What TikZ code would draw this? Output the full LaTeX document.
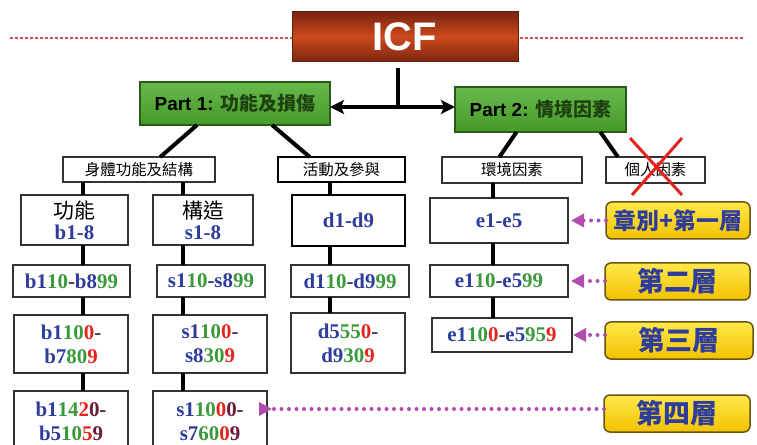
\documentclass[tikz,border=0pt]{standalone}
\usepackage{fontspec}
\setmainfont{Liberation Serif}
\newfontfamily\cjk{Noto Sans CJK TC}
\newfontfamily\arial{Liberation Sans}
\usetikzlibrary{arrows.meta,calc}
\definecolor{cblue}{HTML}{2E3C9C}
\definecolor{cgreen}{HTML}{3A9A3A}
\definecolor{cred}{HTML}{E52420}
\definecolor{cmar}{HTML}{6A1A3A}
\definecolor{cdash}{HTML}{333366}
\definecolor{icfdark}{HTML}{7A2410}
\definecolor{icfmid}{HTML}{CC4A1C}
\definecolor{gfill}{HTML}{4CAC2C}
\definecolor{gborder}{HTML}{2A5A1A}
\definecolor{gtext}{HTML}{1F4010}
\definecolor{ytop}{HTML}{FFE84A}
\definecolor{ybot}{HTML}{F2C200}
\definecolor{yborder}{HTML}{6A5410}
\definecolor{ytext}{HTML}{2E3C9C}
\definecolor{purp}{HTML}{B04CB0}
\definecolor{redline}{HTML}{D05050}
\newcommand\Cb[1]{\textcolor{cblue}{#1}}
\newcommand\Cg[1]{\textcolor{cgreen}{#1}}
\newcommand\Cr[1]{\textcolor{cred}{#1}}
\newcommand\Cm[1]{\textcolor{cmar}{#1}}
\newcommand\Cd{\textcolor{cdash}{-}}
\begin{document}
\begin{tikzpicture}[x=1bp,y=-1bp,
  every node/.style={inner sep=0pt,outer sep=0pt},
  box/.style={draw=black!80,line width=1.5bp,fill=white,rectangle},
  codebox/.style={box,font=\fontsize{21}{24}\selectfont\bfseries,align=center},
  headbox/.style={box,font=\cjk\fontsize{15.5}{17}\selectfont},
  partbox/.style={draw=gborder,line width=1.5bp,top color=gfill!85!white,bottom color=gfill!90!black,
     font=\arial\bfseries\fontsize{19}{22}\selectfont},
  ybox/.style={draw=yborder,line width=1.5bp,rounded corners=6bp,top color=ytop,bottom color=ybot,
     text=ytext,font=\cjk\bfseries\fontsize{27}{30}\selectfont},
  conn/.style={line width=4bp,black},
  dotarrow/.style={purp,line width=4bp,line cap=round,dash pattern=on 0bp off 7.5bp,
     -{Triangle[length=13bp,width=13bp]}},
]
\clip (0,0) rectangle (757,445);
\fill[white] (0,0) rectangle (757,445);
% top red dotted line
\coordinate (rl1) at (10,38);
\coordinate (rl2) at (745,38);
\draw[redline,line width=1.5bp,dash pattern=on 3bp off 2bp] (rl1) -- (rl2);
% ICF
\node[draw=icfdark!80!black,line width=1bp,minimum width=226bp,minimum height=50bp,
  shading=axis,top color=icfdark,bottom color=icfdark,middle color=icfmid,
  text=white,font=\arial\bfseries\fontsize{40}{44}\selectfont] (ICF) at (405,37) {ICF};
% parts
\node[partbox,minimum width=190bp,minimum height=43bp] (P1) at (235,103.5) {Part 1: {\cjk\color{gtext}功能及損傷}};
\node[partbox,minimum width=171bp,minimum height=45bp] (P2) at (540.5,109.5) {Part 2: {\cjk\color{gtext}情境因素}};
\coordinate (J) at (398,107);
\draw[conn,line width=3.5bp,shorten <=6bp] (ICF.south -| J) -- (J);
\draw[line width=3.5bp,{Stealth[length=14bp,width=14bp,inset=3bp]}-{Stealth[length=14bp,width=14bp,inset=3bp]}]
  (P1.east |- J) -- (P2.west |- J);
% headers
\node[headbox,minimum width=152bp,minimum height=25bp] (H1) at (139,169.5) {身體功能及結構};
\node[headbox,minimum width=127bp,minimum height=25bp,line width=2bp,draw=black] (H2) at (341.5,169.5) {活動及參與};
\node[headbox,minimum width=140bp,minimum height=26bp] (H3) at (512,170) {環境因素};
\node[headbox,minimum width=99bp,minimum height=26bp] (H4) at (655.5,170) {個人因素};
\draw[conn] ($(P1.south west)!0.3!(P1.south east)$) -- ($(H1.north west)!0.64!(H1.north east)$);
\draw[conn] ($(P1.south west)!0.695!(P1.south east)$) -- ($(H2.north west)!0.25!(H2.north east)$);
\draw[conn] ($(P2.south west)!0.36!(P2.south east)$) -- ($(H3.north west)!0.41!(H3.north east)$);
\draw[conn] ($(P2.south west)!0.85!(P2.south east)$) -- ($(H4.north west)!0.12!(H4.north east)$);
% red cross
\coordinate (x1) at (630,138);
\coordinate (x2) at (682,195);
\coordinate (x3) at (682,138);
\coordinate (x4) at (632,195);
\draw[cred,line width=3bp] (x1) -- (x2);
\draw[cred,line width=3bp] (x3) -- (x4);
% b column
\node[codebox,minimum width=107bp,minimum height=50bp] (B1) at (74.5,220) {{\cjk\mdseries\color{black}功能}\\[-3bp]\Cb{b1-8}};
\node[codebox,minimum width=117bp,minimum height=32bp] (B2) at (71.5,281) {\Cb{b1}\Cg{10}\Cd\Cb{b8}\Cg{99}};
\node[codebox,minimum width=114bp,minimum height=58bp] (B3) at (71,344) {\Cb{b1}\Cg{10}\Cr{0}\Cd\\\Cb{b7}\Cg{80}\Cr{9}};
\node[codebox,minimum width=114bp,minimum height=61bp] (B4) at (71,421.5) {\Cb{b1}\Cg{14}\Cr{2}\Cm{0-}\\\Cb{b5}\Cg{10}\Cr{5}\Cm{9}};
% s column
\node[codebox,minimum width=100bp,minimum height=50bp] (S1) at (203,220) {{\cjk\mdseries\color{black}構造}\\[-3bp]\Cb{s1-8}};
\node[codebox,minimum width=108bp,minimum height=32bp] (S2) at (211,281) {\Cb{s1}\Cg{10}\Cd\Cb{s8}\Cg{99}};
\node[codebox,minimum width=114bp,minimum height=58bp] (S3) at (210,344) {\Cb{s1}\Cg{10}\Cr{0}\Cd\\\Cb{s8}\Cg{30}\Cr{9}};
\node[codebox,minimum width=114bp,minimum height=61bp] (S4) at (210,421.5) {\Cb{s1}\Cg{10}\Cr{0}\Cm{0-}\\\Cb{s7}\Cg{60}\Cr{0}\Cm{9}};
% d column
\node[codebox,minimum width=113bp,minimum height=51bp,line width=2bp,draw=black] (D1) at (348.5,220.5) {\Cb{d1-d9}};
\node[codebox,minimum width=118bp,minimum height=32bp] (D2) at (350,281) {\Cb{d1}\Cg{10}\Cd\Cb{d9}\Cg{99}};
\node[codebox,minimum width=114bp,minimum height=60bp] (D3) at (348,343) {\Cb{d5}\Cg{55}\Cr{0}\Cd\\\Cb{d9}\Cg{30}\Cr{9}};
% e column
\node[codebox,minimum width=138bp,minimum height=45bp] (E1) at (499,220.5) {\Cb{e1-e5}};
\node[codebox,minimum width=138bp,minimum height=32bp] (E2) at (499,281) {\Cb{e1}\Cg{10}\Cd\Cb{e5}\Cg{99}};
\node[codebox,minimum width=140bp,minimum height=34bp] (E3) at (502,335) {\Cb{e1}\Cg{10}\Cr{0}\Cd\Cb{e5}\Cg{95}\Cr{9}};
% vertical connectors
\coordinate (cb) at (83,0);
\coordinate (cs) at (183,0);
\coordinate (cd) at (330,0);
\coordinate (ce) at (493,0);
\draw[conn] (H1.south -| cb) -- (B1.north -| cb);
\draw[conn] (B1.south -| cb) -- (B2.north -| cb);
\draw[conn] (B2.south -| cb) -- (B3.north -| cb);
\draw[conn] (B3.south -| cb) -- (B4.north -| cb);
\draw[conn] (H1.south -| cs) -- (S1.north -| cs);
\draw[conn] (S1.south -| cs) -- (S2.north -| cs);
\draw[conn] (S2.south -| cs) -- (S3.north -| cs);
\draw[conn] (S3.south -| cs) -- (S4.north -| cs);
\draw[conn] (H2.south -| cd) -- (D1.north -| cd);
\draw[conn] (D1.south -| cd) -- (D2.north -| cd);
\draw[conn] (D2.south -| cd) -- (D3.north -| cd);
\draw[conn] (H3.south -| ce) -- (E1.north -| ce);
\draw[conn] (E1.south -| ce) -- (E2.north -| ce);
\draw[conn] (E2.south -| ce) -- (E3.north -| ce);
% yellow level labels
\node[ybox,minimum width=144bp,minimum height=37bp,font=\cjk\bfseries\fontsize{23}{26}\selectfont] (Y1) at (678,220.5) {章別+第一層};
\node[ybox,minimum width=145bp,minimum height=37bp] (Y2) at (677.5,281.5) {第二層};
\node[ybox,minimum width=148bp,minimum height=37bp] (Y3) at (679,340.5) {第三層};
\node[ybox,minimum width=146bp,minimum height=37bp] (Y4) at (677,413.5) {第四層};
\draw[dotarrow] (Y1.west |- E1.east) -- ([xshift=3bp]E1.east);
\draw[dotarrow] (Y2.west |- E2.east) -- ([xshift=3bp]E2.east);
\draw[dotarrow] (Y3.west |- E3.east) -- ([xshift=1bp]E3.east);
\coordinate (a4) at (270,409);
\draw[dotarrow] (Y4.west |- a4) -- (S4.east |- a4) -- ([xshift=5bp]S4.east |- a4);
\end{tikzpicture}
\end{document}
